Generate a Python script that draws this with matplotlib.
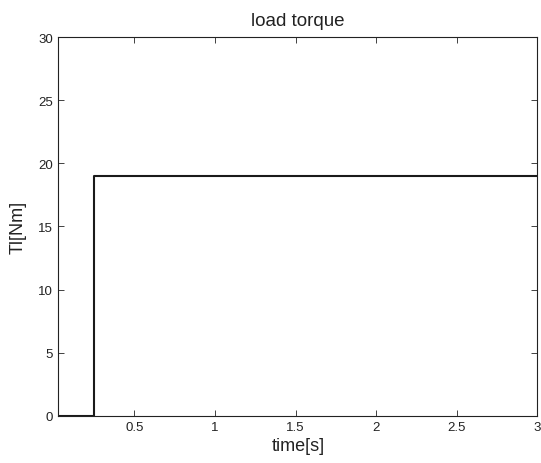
import numpy as np
import matplotlib.pyplot as plt

plt.rcParams['font.family'] = ['Liberation Sans', 'DejaVu Sans']

# load torque step
time = [0.028, 0.25, 0.25, 3.0]
torque = [0, 0, 19, 19]

xticks = [0.5, 1, 1.5, 2, 2.5, 3]
xticklabels = ['0.5', '1', '1.5', '2', '2.5', '3']
yticks = [0, 5, 10, 15, 20, 25, 30]

fig = plt.figure(figsize=(5.41, 4.64), dpi=100)
ax = fig.add_axes([0.1078, 0.1019, 0.8854, 0.8156])

ax.plot(time, torque, color='#1a1a1a', linewidth=1.5)

ax.set_xlim(0.028, 3)
ax.set_ylim(0, 30)
ax.set_xticks(xticks)
ax.set_xticklabels(xticklabels)
ax.set_yticks(yticks)
ax.tick_params(direction='in', top=True, right=True, labelsize=9.5, length=4, width=0.6,
               colors='#222222', pad=4)
for s in ax.spines.values():
    s.set_linewidth(0.8)
    s.set_color('#222222')

ax.set_title('load torque', fontsize=13.5, color='#222222', pad=9)
ax.set_xlabel('time[s]', fontsize=13, color='#222222', labelpad=3)
ax.set_ylabel('Tl[Nm]', fontsize=13, color='#222222', labelpad=8)

fig.savefig('out.png', dpi=100)
